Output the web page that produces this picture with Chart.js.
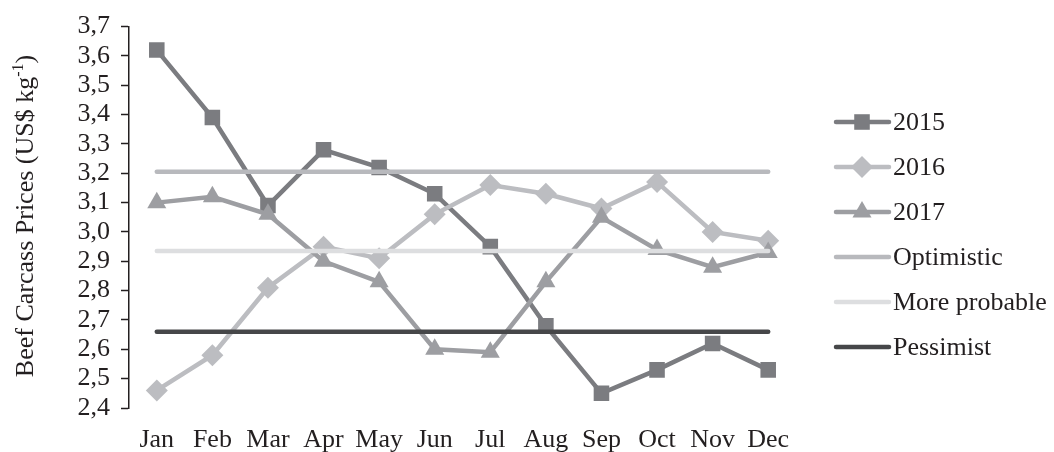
<!DOCTYPE html>
<html lang="en">
<head>
  <meta charset="UTF-8" />
  <title>Beef Carcass Prices</title>
  <script src="https://cdn.jsdelivr.net/npm/chart.js"></script>
  <style>
    html, body { margin: 0; padding: 0; background: #fff; }
    #wrap { width: 1054px; height: 452px; }
  </style>
</head>
<body>
  <div id="wrap"><canvas id="priceChart"></canvas></div>

  <script>
    // data
    const months = ['Jan', 'Feb', 'Mar', 'Apr', 'May', 'Jun', 'Jul', 'Aug', 'Sep', 'Oct', 'Nov', 'Dec'];
    const prices2015 = [3.62, 3.39, 3.09, 3.28, 3.22, 3.13, 2.95, 2.68, 2.45, 2.53, 2.62, 2.53];
    const prices2016 = [2.46, 2.58, 2.81, 2.95, 2.91, 3.06, 3.16, 3.13, 3.08, 3.17, 3.00, 2.97];
    const prices2017 = [3.10, 3.12, 3.06, 2.90, 2.83, 2.60, 2.59, 2.83, 3.05, 2.94, 2.88, 2.93];
    const optimistic   = [3.205, 3.205, 3.205, 3.205, 3.205, 3.205, 3.205, 3.205, 3.205, 3.205, 3.205, 3.205];
    const moreProbable = [2.935, 2.935, 2.935, 2.935, 2.935, 2.935, 2.935, 2.935, 2.935, 2.935, 2.935, 2.935];
    const pessimist    = [2.66, 2.66, 2.66, 2.66, 2.66, 2.66, 2.66, 2.66, 2.66, 2.66, 2.66, 2.66];
    const yMin = 2.4, yMax = 3.7, yStep = 0.1;

    const FONT = '"Liberation Serif", "Times New Roman", serif';
    const TEXT = '#231f20';

    function series(label, data, color, style, order) {
      return {
        label, data, order,
        borderColor: color, backgroundColor: color,
        borderWidth: 4.5, pointStyle: style, pointRadius: 11, pointHoverRadius: 11,
        pointBorderWidth: 0, pointBackgroundColor: color, tension: 0
      };
    }
    function level(label, data, color) {
      return {
        label, data, order: 0,
        borderColor: color, backgroundColor: color,
        borderWidth: 4.5, borderCapStyle: 'round', pointRadius: 0, pointHoverRadius: 0
      };
    }

    // legend on the right, line + marker like the original
    const sideLegend = {
      id: 'sideLegend',
      afterDraw(chart) {
        const ctx = chart.ctx;
        ctx.save();
        chart.data.datasets.forEach((ds, i) => {
          const y = 122 + i * 45;
          ctx.strokeStyle = ds.borderColor;
          ctx.lineWidth = ds.borderWidth;
          ctx.lineCap = 'round';
          ctx.beginPath();
          ctx.moveTo(836, y);
          ctx.lineTo(889, y);
          ctx.stroke();
          if (ds.pointRadius > 0) {
            ctx.fillStyle = ds.backgroundColor;
            Chart.helpers.drawPoint(ctx, { pointStyle: ds.pointStyle, radius: ds.pointRadius, rotation: 0, borderWidth: 0 }, 862, y);
          }
          ctx.fillStyle = TEXT;
          ctx.font = '26px ' + FONT;
          ctx.textAlign = 'left';
          ctx.textBaseline = 'middle';
          ctx.fillText(ds.label, 893, y + 1);
        });
        ctx.restore();
      }
    };

    // rotated y title with a real superscript
    const yTitle = {
      id: 'yTitle',
      afterDraw(chart) {
        const ctx = chart.ctx;
        const a = 'Beef Carcass Prices (US$ kg', sup = '-1', b = ')';
        ctx.save();
        ctx.fillStyle = TEXT;
        ctx.textBaseline = 'alphabetic';
        ctx.translate(33, 216);
        ctx.rotate(-Math.PI / 2);
        ctx.font = '26px ' + FONT;
        const wa = ctx.measureText(a).width, wb = ctx.measureText(b).width;
        ctx.font = '16px ' + FONT;
        const ws = ctx.measureText(sup).width;
        let x = -(wa + ws + wb) / 2;
        ctx.font = '26px ' + FONT;
        ctx.fillText(a, x, 0);
        x += wa;
        ctx.font = '16px ' + FONT;
        ctx.fillText(sup, x, -10);
        x += ws;
        ctx.font = '26px ' + FONT;
        ctx.fillText(b, x, 0);
        ctx.restore();
      }
    };

    new Chart(document.getElementById('priceChart'), {
      type: 'line',
      data: {
        labels: months,
        datasets: [
          series('2015', prices2015, '#7b7c80', 'rect', 3),
          series('2016', prices2016, '#bcbdc1', 'rectRot', 2),
          series('2017', prices2017, '#9d9ea2', 'triangle', 1),
          level('Optimistic', optimistic, '#b8b9bd'),
          level('More probable', moreProbable, '#dddee0'),
          level('Pessimist', pessimist, '#464749')
        ]
      },
      options: {
        responsive: true,
        maintainAspectRatio: false,
        animation: false,
        layout: { padding: { left: 0, right: 258, top: 26, bottom: 0 } },
        plugins: { legend: { display: false }, tooltip: { enabled: false } },
        scales: {
          x: {
            offset: true,
            grid: { display: false },
            border: { display: false },
            ticks: { color: TEXT, font: { family: FONT, size: 26 }, padding: 9, maxRotation: 0, autoSkip: false },
            afterFit(scale) { scale.height = 44; }
          },
          y: {
            min: yMin, max: yMax,
            grid: { display: true, drawOnChartArea: false, drawTicks: true, tickLength: 8, tickWidth: 1.5, tickColor: '#231f20' },
            border: { display: true, color: '#231f20', width: 1.5 },
            ticks: {
              stepSize: yStep, color: TEXT, padding: 11, autoSkip: false,
              font: { family: FONT, size: 26 },
              callback: v => v.toFixed(1).replace('.', ',')
            },
            afterFit(scale) { scale.width = 129; }
          }
        }
      },
      plugins: [sideLegend, yTitle]
    });
  </script>
</body>
</html>
